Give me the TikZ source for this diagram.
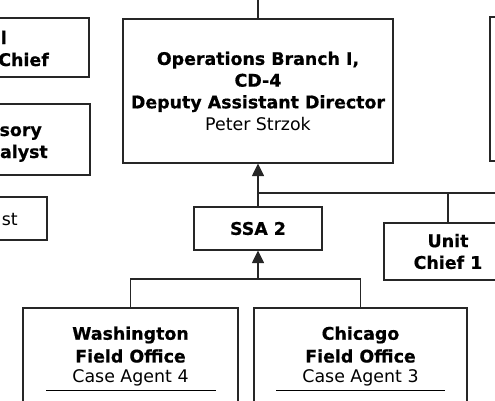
\documentclass[tikz,border=0pt]{standalone}
\usepackage{fontspec}
\setmainfont[BoldFeatures={FakeBold=0.6}]{DejaVu Sans}
\usetikzlibrary{arrows.meta}
\begin{document}
\begin{tikzpicture}[x=1pt,y=-1pt,
  ln/.style={line width=1.1pt, draw=black!85},
  box/.style={ln, rectangle, inner sep=0pt, align=center,
    font=\fontsize{17.4}{21.7}\selectfont\bfseries},
  txt/.style={inner sep=0pt, font=\fontsize{17.4}{21.7}\selectfont\bfseries},
  rtxt/.style={inner sep=0pt, font=\fontsize{17.4}{21.7}\selectfont},
  arr/.style={ln, -{Triangle[length=12.5pt,width=12pt]}}]
\useasboundingbox (0,0) rectangle (495,400);
\clip (0,0) rectangle (495,400);
\fill[white] (0,0) rectangle (495,400);
% main box
\node[box, minimum width=270pt, minimum height=144pt] (main) at (258,91)
  {Operations Branch I,\\CD-4\\Deputy Assistant Director\\\mdseries Peter Strzok};
\coordinate (top) at (258,-5);
\draw[ln] (top) -- (main.north);
% left boxes (cut off)
\node[box, minimum width=200pt, minimum height=59pt] (l1) at (-11,47.5) {};
\node[txt, anchor=base east] (l1a) at (7,44) {l};
\node[txt, anchor=base east] (l1b) at (49,66) {Chief};
\node[box, minimum width=200pt, minimum height=71pt] (l2) at (-10,139.5) {};
\node[txt, anchor=base east] (l2a) at (42,136) {sory};
\node[txt, anchor=base east] (l2b) at (48,158) {alyst};
\node[box, minimum width=120pt, minimum height=43pt] (l3) at (-13,218.5) {};
\node[rtxt, anchor=base east] (l3a) at (18,225) {st};
% right tall box (cut off)
\node[box, minimum width=200pt, minimum height=144pt] (r1) at (590,89) {};
% SSA 2
\node[box, minimum width=128pt, minimum height=43pt] (ssa) at (258,228.5) {SSA 2};
\draw[arr] (ssa.north) -- (main.south);
% Unit chief 1
\node[box, minimum width=128pt, minimum height=57pt] (uc) at (448,251.5) {Unit\\Chief 1};
\coordinate (j1) at (258,193);
\coordinate (rend) at (500,193);
\draw[ln] (j1) -- (rend);
\draw[ln] (uc.north |- j1) -- (uc.north);
% field offices
\node[box, minimum width=215pt, minimum height=160pt] (wfo) at (130.5,388) {};
\node[box, minimum width=213pt, minimum height=160pt] (cfo) at (360.5,388) {};
\node[txt] (w1) at (130.5,335) {Washington};
\node[txt] (w2) at (130.5,356) {Field Office};
\node[rtxt] (w3) at (130.5,378) {Case Agent 4};
\node[txt] (c1) at (360.5,335) {Chicago};
\node[txt] (c2) at (360.5,356) {Field Office};
\node[rtxt] (c3) at (360.5,378) {Case Agent 3};
\coordinate (ws1) at (46,390); \coordinate (ws2) at (216,390);
\coordinate (cs1) at (276,390); \coordinate (cs2) at (445,390);
\draw[line width=0.8pt] (ws1) -- (ws2);
\draw[line width=0.8pt] (cs1) -- (cs2);
\coordinate (j2) at (258,279);
\draw[arr] (j2) -- (ssa.south);
\draw[ln] (wfo.north) |- (j2) -| (cfo.north);
\end{tikzpicture}
\end{document}
